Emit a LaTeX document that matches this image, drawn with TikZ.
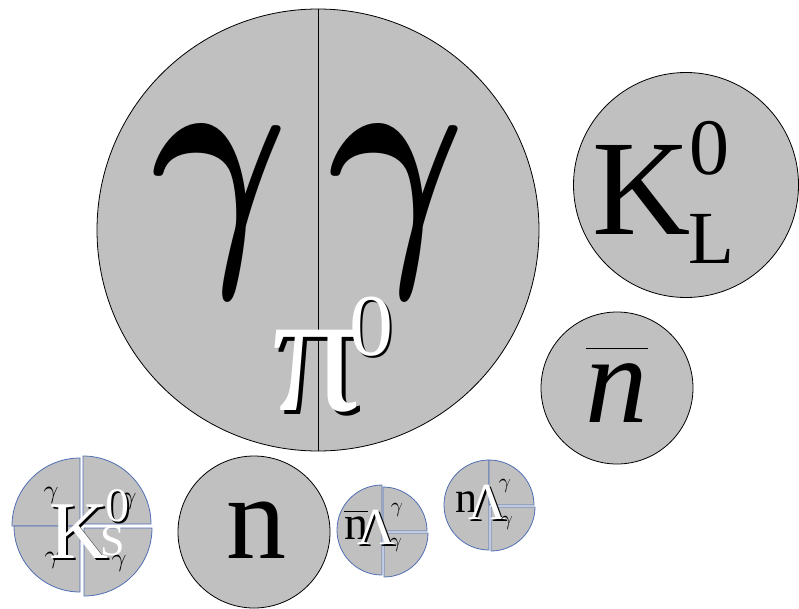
\documentclass[tikz,border=0pt]{standalone}
\usepackage{graphicx}
\usepackage{bm}
\usepackage{fontspec}
\setmainfont{Liberation Serif}
\definecolor{ball}{RGB}{192,192,192}
\definecolor{edge}{RGB}{80,110,180}
\tikzset{
  ballc/.style={circle, fill=ball, draw=black, line width=0.8pt, inner sep=0pt},
  quart/.style={fill=ball, draw=edge, line width=0.8pt},
  txt/.style={inner sep=0pt, text=black},
  wtxt/.style={inner sep=0pt, text=white},
  stxt/.style={inner sep=0pt, text=black}
}
\newcommand{\fs}[1]{\fontsize{#1}{#1}\selectfont}
\newcommand{\gam}[1]{\scalebox{#1}{$\gamma$}}
\begin{document}
\begin{tikzpicture}[x=1pt,y=-1pt]
\useasboundingbox (0,0) rectangle (799,608);
% big pi0 circle
\node[ballc, minimum size=442pt] (pi) at (318,230) {};
\draw[line width=0.8pt] (pi.north) -- (pi.south);
\node[txt] (g1) at (220,212) {\scalebox{21}[27]{$\bm{\gamma}$}};
\node[txt] (g2) at (397,212) {\scalebox{21}[27]{$\bm{\gamma}$}};
\node[stxt] (pis) at (321,375) {\fs{175}π};
\node[wtxt] (piw) at (317,371) {\fs{175}π};
\node[stxt] (p0s) at (373,329) {\fs{88}0};
\node[wtxt] (p0w) at (371,327) {\fs{88}0};
% K_L
\node[ballc, minimum size=225pt] (kl) at (686,185) {};
\node[txt] (klk) at (642,190) {\fs{136}K};
\node[txt] (kl0) at (709,148) {\fs{80}0};
\node[txt] (klL) at (711,239) {\fs{75}L};
% nbar
\node[ballc, minimum size=152pt] (nb) at (617,388) {};
\node[txt] (nbt) at (617,385) {\fs{125}$\overline{\mbox{\raisebox{0pt}[0.58em]{\textit{n}}}}$};
% n
\node[ballc, minimum size=152pt] (n) at (254,532) {};
\node[txt] (nt) at (256,530) {\fs{120}n};
% K_S quartered
\fill[quart] (80,526) -- ++(180:68) arc[start angle=180, end angle=270, radius=68] -- cycle;
\fill[quart] (83,524) -- ++(270:68) arc[start angle=270, end angle=360, radius=68] -- cycle;
\fill[quart] (80,526) -- ++(90:66) arc[start angle=90, end angle=180, radius=66] -- cycle;
\fill[quart] (84,528) -- ++(0:68) arc[start angle=0, end angle=90, radius=68] -- cycle;
\node[txt] (ksg1) at (51,495) {\gam{2.6}};
\node[txt] (ksg2) at (129,501) {\gam{2.6}};
\node[txt] (ksg3) at (52,560) {\gam{2.6}};
\node[txt] (ksg4) at (119,563) {\gam{2.6}};
\node[stxt] (ksks) at (81,534) {\fs{82}K};
\node[wtxt] (kskw) at (79,532) {\fs{82}K};
\node[stxt] (ks0s) at (119,508) {\fs{48}0};
\node[wtxt] (ks0w) at (117,506) {\fs{48}0};
\node[wtxt] (ksS) at (113,541) {\fs{44}S};
% nbar Lambda
\fill[quart] (382,530) -- ++(90:45) arc[start angle=90, end angle=270, radius=45] -- cycle;
\fill[quart] (383,531) -- ++(270:44) arc[start angle=270, end angle=360, radius=44] -- cycle;
\fill[quart] (384,533) -- ++(0:44) arc[start angle=0, end angle=90, radius=44] -- cycle;
\node[txt] (nbl) at (356,525) {\fs{48}$\overline{\mbox{\raisebox{0pt}[0.55em]{n}}}$};
\node[stxt] (lls) at (378,529) {\fs{52}Λ};
\node[wtxt] (llw) at (376,527) {\fs{52}Λ};
\node[txt] (lg1) at (397,510) {\gam{2.1}};
\node[txt] (lg2) at (396,545) {\gam{2.1}};
% n Lambda
\fill[quart] (489,505) -- ++(90:45) arc[start angle=90, end angle=270, radius=45] -- cycle;
\fill[quart] (489,505) -- ++(270:45) arc[start angle=270, end angle=360, radius=45] -- cycle;
\fill[quart] (491,507) -- ++(0:44) arc[start angle=0, end angle=90, radius=44] -- cycle;
\node[txt] (nln) at (466,502) {\fs{44}n};
\node[stxt] (nlls) at (489,504) {\fs{52}Λ};
\node[wtxt] (nllw) at (487,502) {\fs{52}Λ};
\node[txt] (nlg1) at (505,486) {\gam{2.1}};
\node[txt] (nlg2) at (507,523) {\gam{2.1}};
\end{tikzpicture}
\end{document}
